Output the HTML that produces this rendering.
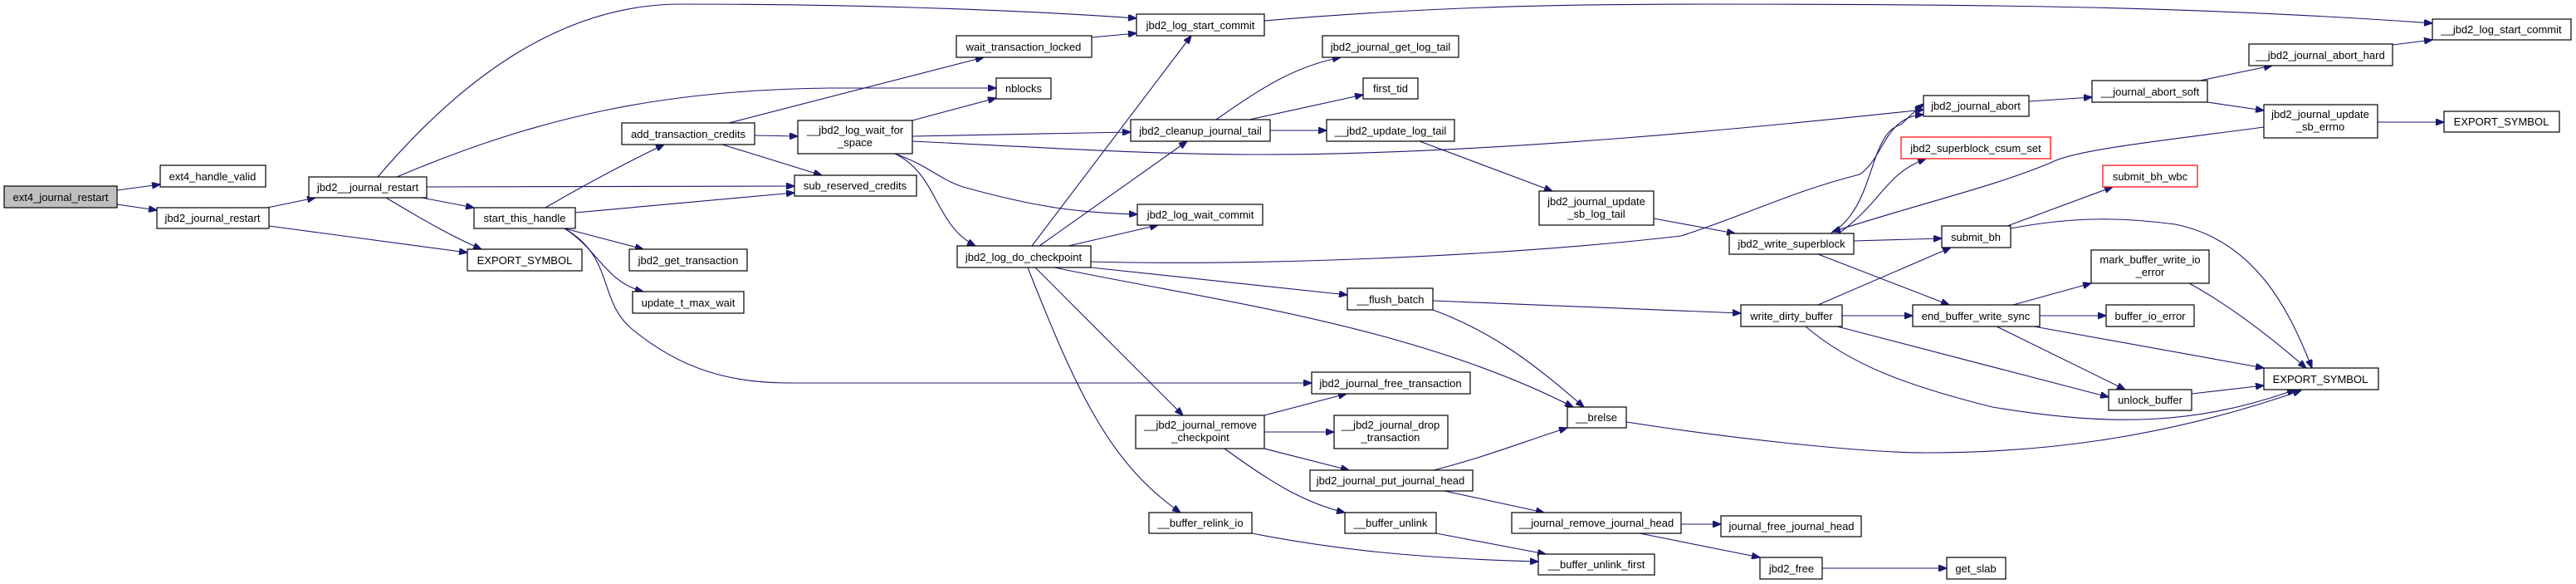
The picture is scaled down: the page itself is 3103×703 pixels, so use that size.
<!DOCTYPE html>
<html><head><meta charset="utf-8"><style>
html,body{margin:0;padding:0;background:#fff;}
svg{display:block}
text{font-family:"Liberation Sans",Arial,sans-serif;font-size:13px;fill:#000;text-anchor:middle}
rect{fill:#fff;stroke:#000;stroke-width:1.2}
path{fill:none;stroke:#191970;stroke-width:1.1}
</style></head><body>
<svg width="3103" height="703" viewBox="0 0 3103 703" xmlns="http://www.w3.org/2000/svg">
<defs><marker id="a" viewBox="0 0 10 8" refX="10" refY="4" markerWidth="10" markerHeight="8" markerUnits="userSpaceOnUse" orient="auto"><path d="M0,0 L10,4 L0,8 z" style="fill:#191970;stroke:#191970"/></marker></defs>
<g marker-end="url(#a)">
<path d="M141,229 L193,222"/>
<path d="M141,246 L189,253"/>
<path d="M322,250 L380,238"/>
<path d="M324,272 L563,304"/>
<path d="M508,238 L571,250"/>
<path d="M465,238 C510,265 545,285 580,300"/>
<path d="M455,213 C560,90 680,5 820,5 C1000,5 1200,10 1369,22"/>
<path d="M478,213 C650,140 800,108 1000,106 L1200,106"/>
<path d="M514,225 L957,224"/>
<path d="M657,250 C700,225 750,198 800,174"/>
<path d="M693,256 L957,232"/>
<path d="M680,275 L775,300"/>
<path d="M680,275 C720,300 730,340 775,351"/>
<path d="M680,275 C740,310 720,360 760,395 C820,445 880,461 950,461 L1580,461"/>
<path d="M878,148 L1185,69"/>
<path d="M909,163 L961,164"/>
<path d="M870,174 L990,211"/>
<path d="M1315,45 L1369,40"/>
<path d="M1099,145 L1200,118"/>
<path d="M1099,164 L1362,159"/>
<path d="M1099,170 C1300,180 1400,186 1520,186 C1800,186 2150,150 2317,132"/>
<path d="M1078,185 C1120,200 1130,215 1160,225 C1250,250 1300,256 1370,258"/>
<path d="M1078,185 C1130,210 1125,270 1175,296"/>
<path d="M1243,296 L1435,43"/>
<path d="M1252,296 L1430,170"/>
<path d="M1287,296 L1395,271"/>
<path d="M1314,315 C1500,320 1800,310 2025,284 C2100,260 2160,230 2240,210 C2270,190 2270,140 2317,138"/>
<path d="M1314,322 L1623,355"/>
<path d="M1270,322 C1450,360 1700,390 1895,490"/>
<path d="M1247,322 L1425,500"/>
<path d="M1238,322 C1300,480 1340,560 1422,617"/>
<path d="M1465,144 C1520,105 1560,80 1615,69"/>
<path d="M1505,144 L1642,114"/>
<path d="M1530,157 L1598,157"/>
<path d="M1523,25 C1700,10 1850,5 2050,5 C2400,5 2650,8 2930,28"/>
<path d="M1710,170 L1870,230"/>
<path d="M1992,263 L2090,281"/>
<path d="M2205,281 C2260,250 2250,160 2290,150 C2300,140 2305,135 2317,125"/>
<path d="M2215,281 C2270,240 2270,210 2320,191"/>
<path d="M2727,153 C2600,170 2500,180 2470,196 C2400,225 2330,240 2207,279"/>
<path d="M2233,290 L2339,287"/>
<path d="M2190,306 L2348,367"/>
<path d="M1726,362 L2097,377"/>
<path d="M1726,373 C1800,400 1850,440 1908,490"/>
<path d="M2190,367 L2350,298"/>
<path d="M2219,380 L2304,380"/>
<path d="M2213,393 L2540,478"/>
<path d="M2175,393 C2230,440 2300,465 2400,490 C2550,515 2650,510 2765,469"/>
<path d="M1959,508 C2100,530 2250,545 2320,545 C2450,545 2600,530 2772,470"/>
<path d="M2418,272 L2545,225"/>
<path d="M2422,275 C2500,260 2560,262 2620,270 C2720,290 2760,380 2785,443"/>
<path d="M2425,367 L2519,341"/>
<path d="M2457,380 L2537,380"/>
<path d="M2450,393 L2727,443"/>
<path d="M2405,393 L2560,469"/>
<path d="M2637,341 C2690,370 2740,410 2778,443"/>
<path d="M2640,474 L2727,464"/>
<path d="M2444,122 L2520,117"/>
<path d="M2650,97 L2737,79"/>
<path d="M2659,123 L2727,133"/>
<path d="M2882,54 L2930,48"/>
<path d="M2864,147 L2944,147"/>
<path d="M1523,500 L1622,474"/>
<path d="M1523,520 L1607,520"/>
<path d="M1523,540 L1625,566"/>
<path d="M1475,540 C1530,580 1570,605 1620,617"/>
<path d="M1727,566 C1790,550 1840,530 1888,515"/>
<path d="M1740,591 L1860,617"/>
<path d="M1508,642 C1600,660 1700,672 1853,676"/>
<path d="M1730,642 L1862,667"/>
<path d="M2025,631 L2073,631"/>
<path d="M1975,642 L2120,671"/>
<path d="M2195,684 L2345,684"/>
</g>
<g>
<rect x="5" y="224" width="136" height="26" style="fill:#bfbfbf"/><text x="73" y="242">ext4_journal_restart</text>
<rect x="193" y="199" width="127" height="26"/><text x="256" y="217">ext4_handle_valid</text>
<rect x="189" y="250" width="135" height="25"/><text x="256" y="267">jbd2_journal_restart</text>
<rect x="372" y="213" width="142" height="25"/><text x="443" y="230">jbd2__journal_restart</text>
<rect x="571" y="250" width="122" height="25"/><text x="632" y="267">start_this_handle</text>
<rect x="563" y="300" width="138" height="26"/><text x="632" y="318">EXPORT_SYMBOL</text>
<rect x="749" y="148" width="160" height="26"/><text x="829" y="166">add_transaction_credits</text>
<rect x="961" y="145" width="138" height="40"/><text x="1030" y="161">__jbd2_log_wait_for</text><text x="1030" y="176">_space</text>
<rect x="1152" y="43" width="163" height="26"/><text x="1233" y="61">wait_transaction_locked</text>
<rect x="1200" y="94" width="66" height="25"/><text x="1233" y="111">nblocks</text>
<rect x="957" y="211" width="147" height="25"/><text x="1030" y="228">sub_reserved_credits</text>
<rect x="758" y="300" width="142" height="26"/><text x="829" y="318">jbd2_get_transaction</text>
<rect x="762" y="351" width="134" height="26"/><text x="829" y="369">update_t_max_wait</text>
<rect x="1369" y="17" width="154" height="26"/><text x="1446" y="35">jbd2_log_start_commit</text>
<rect x="1362" y="144" width="168" height="26"/><text x="1446" y="162">jbd2_cleanup_journal_tail</text>
<rect x="1370" y="246" width="151" height="25"/><text x="1446" y="263">jbd2_log_wait_commit</text>
<rect x="1153" y="296" width="161" height="26"/><text x="1233" y="314">jbd2_log_do_checkpoint</text>
<rect x="1368" y="500" width="155" height="40"/><text x="1446" y="516">__jbd2_journal_remove</text><text x="1446" y="531">_checkpoint</text>
<rect x="1384" y="617" width="124" height="25"/><text x="1446" y="634">__buffer_relink_io</text>
<rect x="1593" y="43" width="164" height="26"/><text x="1675" y="61">jbd2_journal_get_log_tail</text>
<rect x="1642" y="94" width="66" height="25"/><text x="1675" y="111">first_tid</text>
<rect x="1598" y="144" width="154" height="26"/><text x="1675" y="162">__jbd2_update_log_tail</text>
<rect x="1854" y="230" width="138" height="41"/><text x="1923" y="247">jbd2_journal_update</text><text x="1923" y="262">_sb_log_tail</text>
<rect x="2083" y="281" width="150" height="25"/><text x="2158" y="298">jbd2_write_superblock</text>
<rect x="1623" y="347" width="103" height="26"/><text x="1675" y="365">__flush_batch</text>
<rect x="2097" y="367" width="122" height="26"/><text x="2158" y="385">write_dirty_buffer</text>
<rect x="1580" y="448" width="191" height="26"/><text x="1675" y="466">jbd2_journal_free_transaction</text>
<rect x="1888" y="490" width="71" height="25"/><text x="1923" y="507">__brelse</text>
<rect x="1607" y="500" width="137" height="40"/><text x="1675" y="516">__jbd2_journal_drop</text><text x="1675" y="531">_transaction</text>
<rect x="1578" y="566" width="196" height="25"/><text x="1675" y="583">jbd2_journal_put_journal_head</text>
<rect x="1620" y="617" width="110" height="25"/><text x="1675" y="634">__buffer_unlink</text>
<rect x="1821" y="617" width="204" height="25"/><text x="1923" y="634">__journal_remove_journal_head</text>
<rect x="2073" y="621" width="169" height="25"/><text x="2158" y="638">journal_free_journal_head</text>
<rect x="1853" y="667" width="140" height="25"/><text x="1923" y="684">__buffer_unlink_first</text>
<rect x="2120" y="671" width="75" height="26"/><text x="2158" y="689">jbd2_free</text>
<rect x="2930" y="23" width="167" height="25"/><text x="3013" y="40">__jbd2_log_start_commit</text>
<rect x="2709" y="53" width="173" height="26"/><text x="2795" y="71">__jbd2_journal_abort_hard</text>
<rect x="2520" y="97" width="139" height="26"/><text x="2590" y="115">__journal_abort_soft</text>
<rect x="2317" y="115" width="127" height="25"/><text x="2380" y="132">jbd2_journal_abort</text>
<rect x="2727" y="126" width="137" height="40"/><text x="2795" y="142">jbd2_journal_update</text><text x="2795" y="157">_sb_errno</text>
<rect x="2944" y="134" width="139" height="25"/><text x="3013" y="151">EXPORT_SYMBOL</text>
<rect x="2290" y="165" width="180" height="26" style="stroke:#ff0000"/><text x="2380" y="183">jbd2_superblock_csum_set</text>
<rect x="2533" y="199" width="114" height="26" style="stroke:#ff0000"/><text x="2590" y="217">submit_bh_wbc</text>
<rect x="2339" y="272" width="83" height="26"/><text x="2380" y="290">submit_bh</text>
<rect x="2519" y="301" width="142" height="40"/><text x="2590" y="317">mark_buffer_write_io</text><text x="2590" y="332">_error</text>
<rect x="2304" y="367" width="153" height="26"/><text x="2380" y="385">end_buffer_write_sync</text>
<rect x="2537" y="367" width="106" height="26"/><text x="2590" y="385">buffer_io_error</text>
<rect x="2727" y="443" width="138" height="26"/><text x="2795" y="461">EXPORT_SYMBOL</text>
<rect x="2540" y="469" width="100" height="25"/><text x="2590" y="486">unlock_buffer</text>
<rect x="2345" y="671" width="71" height="26"/><text x="2380" y="689">get_slab</text>
</g>
</svg>
</body></html>
